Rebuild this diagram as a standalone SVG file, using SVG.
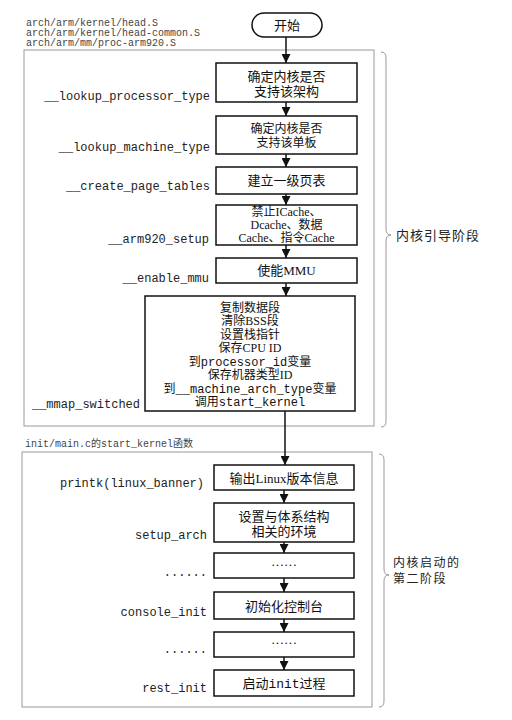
<svg xmlns="http://www.w3.org/2000/svg" width="512" height="720" viewBox="0 0 512 720">
<style>
.bg{fill:#fff}
.box{fill:#fff;stroke:#111;stroke-width:1.5}
.frame{fill:none;stroke:#999;stroke-width:1}
.brace{fill:none;stroke:#999;stroke-width:1}
.t{font-family:"Liberation Serif","Noto Sans CJK SC",serif;font-size:13px;fill:#111;text-anchor:middle}
.s{font-size:12px}
.m{font-family:"Liberation Mono",monospace}
.lbl{font-family:"Liberation Mono",monospace;font-size:12px;fill:#222;text-anchor:end}
.src{font-family:"Liberation Mono","Noto Sans CJK SC",monospace;font-size:10px;fill:#444}
.side{font-family:"Noto Sans CJK SC",sans-serif;font-size:13px;fill:#222;letter-spacing:1px}
.side2{font-family:"Noto Sans CJK SC",sans-serif;font-size:12px;fill:#222;letter-spacing:1.5px}
.conn line{stroke:#111;stroke-width:1.5;marker-end:url(#ah)}
</style>
<defs>
<marker id="ah" markerUnits="userSpaceOnUse" markerWidth="9" markerHeight="9" refX="9" refY="4.5" orient="auto">
<path d="M0,0 L9,4.5 L0,9 z" fill="#111"/>
</marker>
</defs>
<rect class="bg" x="0" y="0" width="512" height="720"/>

<g id="source-files">
<text class="src" x="26" y="26">arch/arm/kernel/head.S</text>
<text class="src" x="26" y="36">arch/arm/kernel/head-common.S</text>
<text class="src" x="26" y="46">arch/arm/mm/proc-arm920.S</text>
</g>

<g id="stage1-frame">
<rect class="frame" x="24" y="50" width="350" height="376"/>
<path class="brace" d="M381,52 Q386,52 386,58 L386,229 Q386,235 391,235 Q386,235 386,241 L386,421 Q386,427 381,427"/>
<text class="side" x="396" y="240">内核引导阶段</text>
</g>

<g id="stage2-frame">
<text class="src" x="25" y="447">init/main.c的start_kernel函数</text>
<rect class="frame" x="22" y="452" width="350" height="255"/>
<path class="brace" d="M379,454 Q384,454 384,460 L384,569 Q384,575 389,575 Q384,575 384,581 L384,701 Q384,707 379,707"/>
<text class="side2" x="393" y="567">内核启动的</text>
<text class="side2" x="393" y="583">第二阶段</text>
</g>

<g class="conn" id="connectors">
<line x1="286" y1="37" x2="286" y2="63"/>
<line x1="286" y1="102" x2="286" y2="116"/>
<line x1="286" y1="154" x2="286" y2="167"/>
<line x1="286" y1="194" x2="286" y2="205"/>
<line x1="286" y1="245" x2="286" y2="258"/>
<line x1="286" y1="283" x2="286" y2="296"/>
<line x1="285" y1="411" x2="285" y2="465"/>
<line x1="284" y1="490" x2="284" y2="503"/>
<line x1="284" y1="542" x2="284" y2="553"/>
<line x1="284" y1="578" x2="284" y2="592"/>
<line x1="284" y1="619" x2="284" y2="632"/>
<line x1="284" y1="657" x2="284" y2="670"/>
</g>

<g id="start">
<rect class="box" x="252" y="13" width="70" height="24" rx="12"/>
<text class="t" x="287" y="29.5">开始</text>
</g>

<g id="n1">
<rect class="box" x="216" y="63" width="141" height="39"/>
<text class="t" x="286.5" y="80.5">确定内核是否</text>
<text class="t" x="286.5" y="96">支持该架构</text>
<text class="lbl" x="210" y="100">__lookup_processor_type</text>
</g>

<g id="n2">
<rect class="box" x="216" y="116" width="141" height="38"/>
<text class="t s" x="286.5" y="132.5">确定内核是否</text>
<text class="t s" x="286.5" y="147">支持该单板</text>
<text class="lbl" x="210" y="151">__lookup_machine_type</text>
</g>

<g id="n3">
<rect class="box" x="216" y="167" width="141" height="27"/>
<text class="t" x="286.5" y="185">建立一级页表</text>
<text class="lbl" x="210" y="190">__create_page_tables</text>
</g>

<g id="n4">
<rect class="box" x="216" y="205" width="141" height="40"/>
<text class="t s" x="286.5" y="216">禁止ICache、</text>
<text class="t s" x="286.5" y="229">Dcache、数据</text>
<text class="t s" x="286.5" y="242">Cache、指令Cache</text>
<text class="lbl" x="209" y="243">__arm920_setup</text>
</g>

<g id="n5">
<rect class="box" x="216" y="258" width="141" height="25"/>
<text class="t" x="286.5" y="275">使能MMU</text>
<text class="lbl" x="209" y="282">__enable_mmu</text>
</g>

<g id="n6">
<rect class="box" x="145" y="296" width="210" height="115"/>
<text class="t s" x="250" y="311.5">复制数据段</text>
<text class="t s" x="250" y="325">清除BSS段</text>
<text class="t s" x="250" y="338.5">设置栈指针</text>
<text class="t s" x="250" y="352">保存CPU ID</text>
<text class="t s" x="250" y="365.5">到<tspan class="m">processor_id</tspan>变量</text>
<text class="t s" x="250" y="379">保存机器类型ID</text>
<text class="t s" x="250" y="392.5">到<tspan class="m">__machine_arch_type</tspan>变量</text>
<text class="t s" x="250" y="406">调用<tspan class="m">start_kernel</tspan></text>
<text class="lbl" x="140" y="408">__mmap_switched</text>
</g>

<g id="s1">
<rect class="box" x="214" y="465" width="140" height="25"/>
<text class="t" x="284" y="482.5">输出Linux版本信息</text>
<text class="lbl" x="204" y="487">printk(linux_banner)</text>
</g>

<g id="s2">
<rect class="box" x="214" y="503" width="140" height="39"/>
<text class="t" x="284" y="520.5">设置与体系结构</text>
<text class="t" x="284" y="535.5">相关的环境</text>
<text class="lbl" x="207" y="539">setup_arch</text>
</g>

<g id="s3">
<rect class="box" x="214" y="553" width="140" height="25"/>
<text class="t" x="284" y="569">······</text>
<text class="lbl" x="207" y="576">......</text>
</g>

<g id="s4">
<rect class="box" x="214" y="592" width="140" height="27"/>
<text class="t" x="284" y="610.5">初始化控制台</text>
<text class="lbl" x="207" y="616">console_init</text>
</g>

<g id="s5">
<rect class="box" x="214" y="632" width="140" height="25"/>
<text class="t" x="284" y="647">······</text>
<text class="lbl" x="207" y="653">......</text>
</g>

<g id="s6">
<rect class="box" x="214" y="670" width="140" height="26"/>
<text class="t" x="284" y="687.5">启动<tspan class="m">init</tspan>过程</text>
<text class="lbl" x="207" y="692">rest_init</text>
</g>
</svg>
